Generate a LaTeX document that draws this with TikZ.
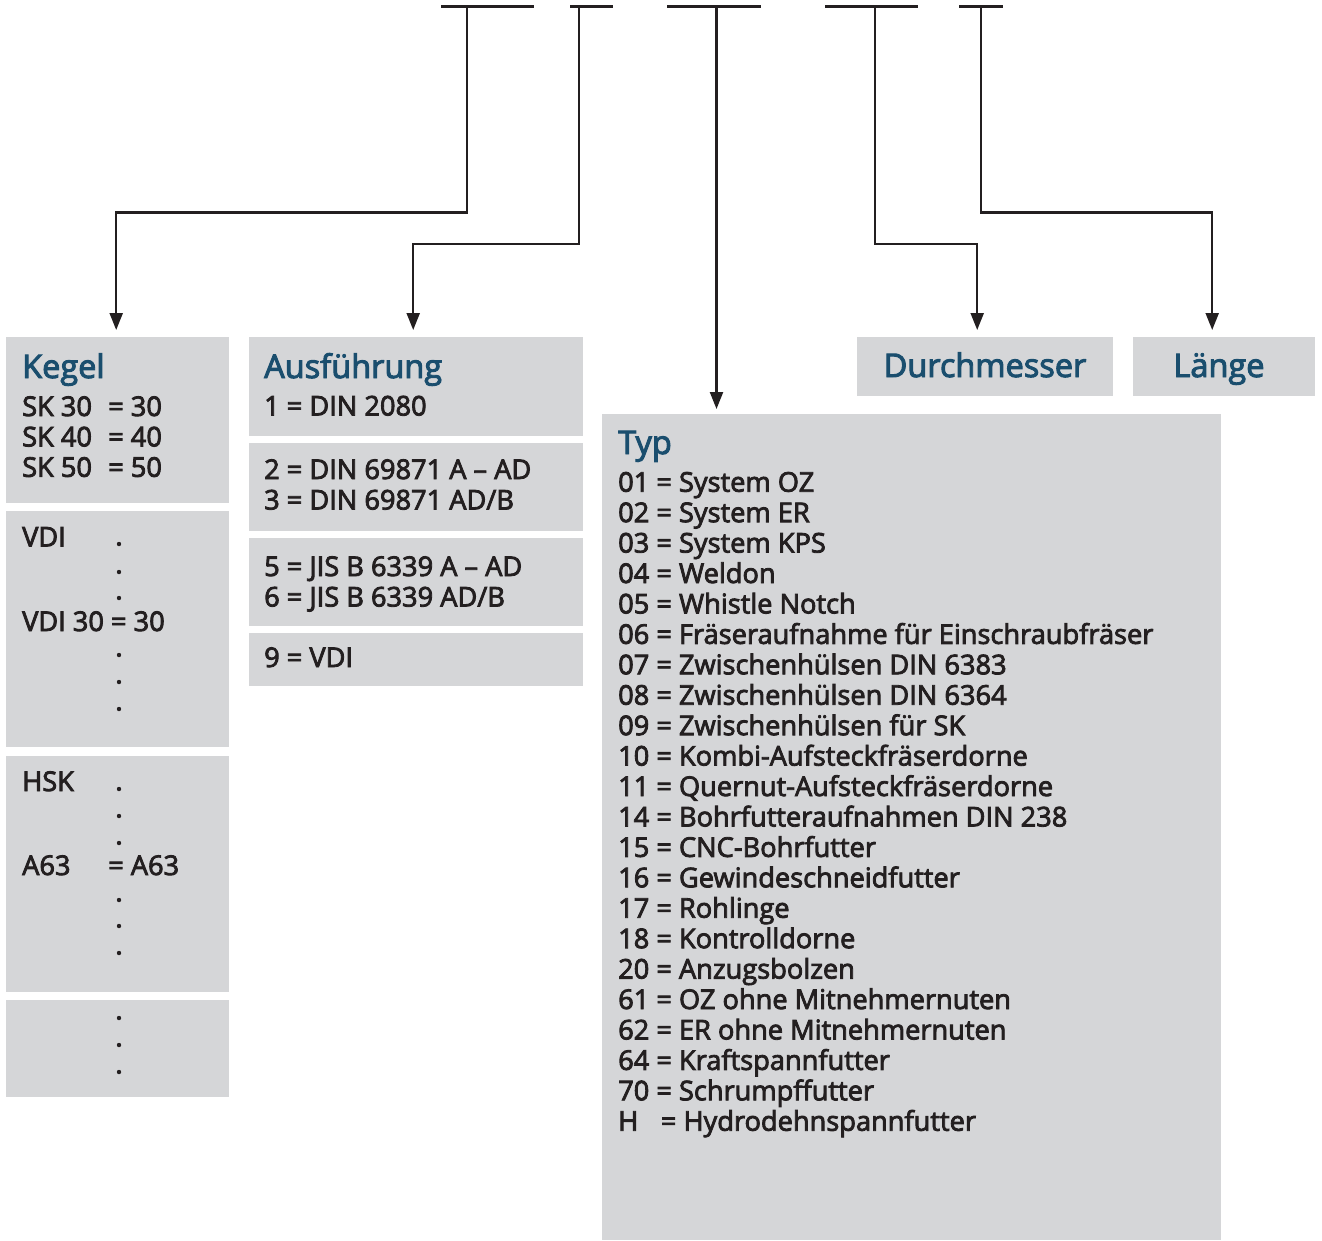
\documentclass[tikz,border=0pt]{standalone}
\usepackage{fontspec}
\setmainfont{Open Sans}[FakeBold=3]
\usetikzlibrary{arrows.meta,positioning}
\definecolor{boxgray}{RGB}{213,214,216}
\definecolor{headblue}{RGB}{26,78,110}
\definecolor{ink}{RGB}{35,31,32}
\newcommand{\keg}[1]{\makebox[86pt][l]{#1}}

\begin{document}
\begin{tikzpicture}[x=1pt,y=-1pt,>={Triangle[length=17pt,width=13pt]},
  panel/.style={fill=boxgray,inner sep=0pt,anchor=north west},
  head/.style={headblue,inner sep=0pt,anchor=base west,font=\fontsize{32.5}{38}\selectfont},
  entry/.style={ink,inner sep=0pt,anchor=base west,font=\fontsize{27.2}{30.43}\selectfont},
  link/.style={ink,line width=2.2pt,->,shorten >=7pt},
  bar/.style={ink,line width=3pt}]

  \useasboundingbox (0,0) rectangle (1322,1240);

  % Kegel
  \node[panel,minimum width=223pt,minimum height=166pt] (kegelA) at (6,337) {};
  \node[panel,minimum width=223pt,minimum height=236pt] (kegelB) at (6,511) {};
  \node[panel,minimum width=223pt,minimum height=236pt] (kegelC) at (6,756) {};
  \node[panel,minimum width=223pt,minimum height=97pt] (kegelD) at (6,1000) {};
  \node[head] (kegelHead) at (22,378) {Kegel};
  \foreach \sk [count=\i from 0] in {30,40,50}
    \node[entry] (sk\sk) at (22,{416+30.4*\i}) {\keg{SK \sk}= \sk};
  \node[entry] (vdi) at (22,546.5) {VDI};
  \node[entry] (vdiDrei) at (22,631) {VDI 30 = 30};
  \node[entry] (hsk) at (22,791) {HSK};
  \node[entry] (hskA) at (22,875) {\keg{A63}= A63};
  \foreach \y in {544,572,598,655,682,709,789,816,843,900,926,953,1018,1045,1072}
    \fill[ink] (119,\y) circle (2.2pt);

  % Ausfuehrung
  \node[panel,minimum width=334pt,minimum height=99pt] (ausA) at (249,337) {};
  \node[panel,minimum width=334pt,minimum height=88pt] (ausB) at (249,443) {};
  \node[panel,minimum width=334pt,minimum height=88pt] (ausC) at (249,538) {};
  \node[panel,minimum width=334pt,minimum height=53pt] (ausD) at (249,633) {};
  \node[head] (ausHead) at (264,378) {Ausführung};
  \node[entry] (aus1) at (264,415.5) {1 = DIN 2080};
  \node[entry] (aus2) at (264,479) {2 = DIN 69871 A – AD};
  \node[entry] (aus3) at (264,509.5) {3 = DIN 69871 AD/B};
  \node[entry] (aus5) at (264,576) {5 = JIS B 6339 A – AD};
  \node[entry] (aus6) at (264,606.5) {6 = JIS B 6339 AD/B};
  \node[entry] (aus9) at (264,667) {9 = VDI};

  % Typ
  \node[panel,minimum width=619pt,minimum height=826pt] (typBox) at (602,414) {};
  \node[head] (typHead) at (618,454) {Typ};
  \foreach \item [count=\i from 0] in {01 = System OZ, 02 = System ER,
      03 = System KPS, 04 = Weldon, 05 = Whistle Notch,
      06 = Fräseraufnahme für Einschraubfräser, 07 = Zwischenhülsen DIN 6383,
      08 = Zwischenhülsen DIN 6364, 09 = Zwischenhülsen für SK,
      10 = Kombi-Aufsteckfräserdorne, 11 = Quernut-Aufsteckfräserdorne,
      14 = Bohrfutteraufnahmen DIN 238, 15 = CNC-Bohrfutter,
      16 = Gewindeschneidfutter, 17 = Rohlinge, 18 = Kontrolldorne,
      20 = Anzugsbolzen, 61 = OZ ohne Mitnehmernuten,
      62 = ER ohne Mitnehmernuten, 64 = Kraftspannfutter,
      70 = Schrumpffutter, H\hphantom{0} = Hydrodehnspannfutter}
    \node[entry] (typ\i) at (618,{491.7+30.43*\i}) {\item};

  % Durchmesser, Laenge
  \node[panel,minimum width=256pt,minimum height=59pt] (durch) at (857,337) {};
  \node[panel,minimum width=182pt,minimum height=59pt] (laenge) at (1133,337) {};
  \node[head,anchor=base] (durchText) at (985,377) {Durchmesser};
  \node[head,anchor=base] (laengeText) at (1219,377) {Länge};

  % Schluessel oben
  \draw[bar] (441,6) -- (534,6);
  \draw[bar] (570,6) -- (613,6);
  \draw[bar] (667,6) -- (761,6);
  \draw[bar] (825,6) -- (918,6);
  \draw[bar] (959,6) -- (1003,6);
  \coordinate (sKegel) at (467,6);
  \coordinate (sAus) at (579,6);
  \coordinate (sTyp) at (716.5,6);
  \coordinate (sDurch) at (875,6);
  \coordinate (sLaenge) at (981,6);

  \draw[link] (sKegel) -- ++(0,206.5) -| ([xshift=-1.5pt]kegelA.north);
  \draw[link] (sAus) -- ++(0,238) -| ([xshift=-3pt]ausA.north);
  \draw[link,shorten >=5pt] (sTyp) -- (sTyp |- typBox.north);
  \draw[link] (sDurch) -- ++(0,238) -| ([xshift=-8pt]durch.north);
  \draw[link] (sLaenge) -- ++(0,206.5) -| ([xshift=-12pt]laenge.north);
\end{tikzpicture}
\end{document}
